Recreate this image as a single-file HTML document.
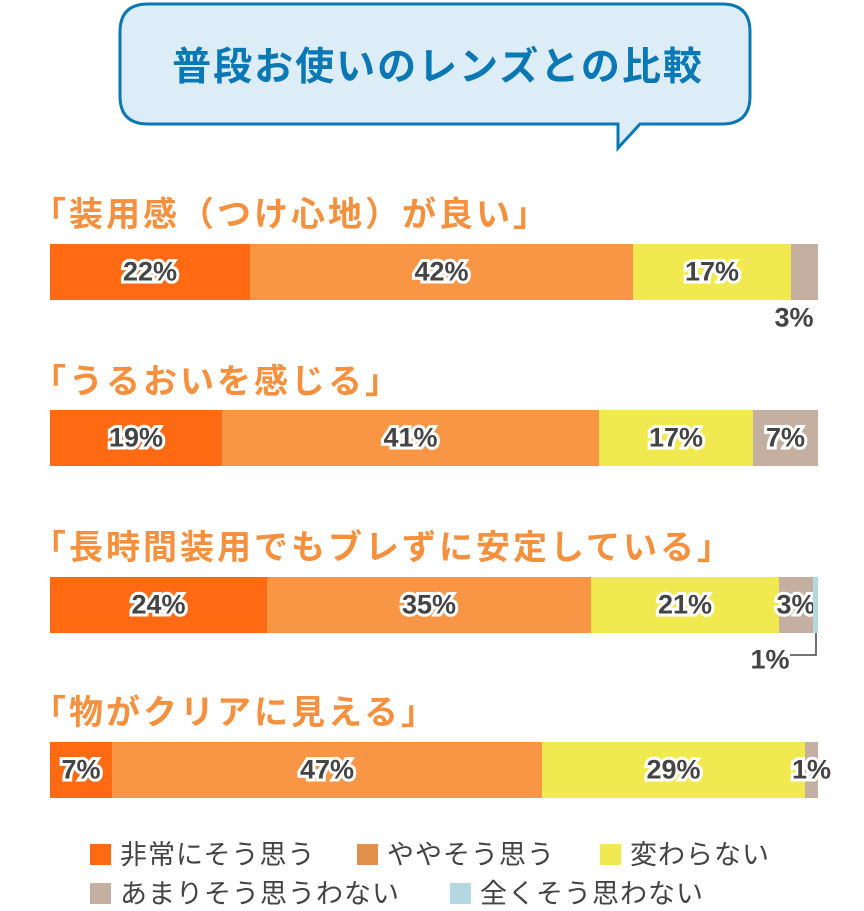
<!DOCTYPE html>
<html><head><meta charset="utf-8"><style>
body{margin:0;width:864px;height:905px;background:#fff;position:relative;overflow:hidden;font-family:"Liberation Sans","Noto Sans CJK JP",sans-serif}
.a{position:absolute}
.t{position:absolute;color:#f5913e;font-weight:bold;font-size:34px;white-space:nowrap;letter-spacing:3px}
.bar{position:absolute;left:50px;width:768px;height:56px;display:flex}
.bar div{height:100%;position:relative}
.l{position:absolute;font-weight:bold;font-size:27px;color:#444;white-space:nowrap;top:50%;transform:translate(-50%,-50%);-webkit-text-stroke:6px #fff;paint-order:stroke fill;letter-spacing:0px}
.c1{background:#ff6a13}.c2{background:#f89646}.c3{background:#f0ea50}.c4{background:#c4afa0}.c5{background:#b3d8df}
.lg{position:absolute;font-size:27px;color:#444;white-space:nowrap;letter-spacing:1px}
.sq{display:inline-block;width:21px;height:21px;vertical-align:-1px;margin-right:9px}
</style></head><body>
<svg class="a" style="left:0;top:0" width="864" height="160">
<path d="M148 4 H722 Q750 4 750 32 V96 Q750 124 722 124 H640 L618 148 V124 H148 Q120 124 120 96 V32 Q120 4 148 4 Z" fill="#ddedf8" stroke="#0a78b4" stroke-width="3"/>
<text x="438" y="80" text-anchor="middle" font-size="39" font-weight="bold" fill="#0a78b4" font-family="Liberation Sans,Noto Sans CJK JP,sans-serif" letter-spacing="2">普段お使いのレンズとの比較</text>
</svg>
<div class="t" style="left:32px;top:187px">「装用感（つけ心地）が良い」</div>
<div class="bar" style="top:244px"><div class="c1" style="width:200px"><span class="l" style="left:50%">22%</span></div><div class="c2" style="width:383px"><span class="l" style="left:50%">42%</span></div><div class="c3" style="width:158px"><span class="l" style="left:50%">17%</span></div><div class="c4" style="width:27px"></div></div>
<div class="l a" style="left:794px;top:318px">3%</div>
<div class="t" style="left:32px;top:354px">「うるおいを感じる」</div>
<div class="bar" style="top:410px"><div class="c1" style="width:172px"><span class="l" style="left:50%">19%</span></div><div class="c2" style="width:377px"><span class="l" style="left:50%">41%</span></div><div class="c3" style="width:154px"><span class="l" style="left:50%">17%</span></div><div class="c4" style="width:65px"><span class="l" style="left:50%">7%</span></div></div>
<div class="t" style="left:32px;top:520px">「長時間装用でもブレずに安定している」</div>
<div class="bar" style="top:577px"><div class="c1" style="width:217px"><span class="l" style="left:50%">24%</span></div><div class="c2" style="width:324px"><span class="l" style="left:50%">35%</span></div><div class="c3" style="width:188px"><span class="l" style="left:50%">21%</span></div><div class="c4" style="width:34px"><span class="l" style="left:50%">3%</span></div><div class="c5" style="width:5px"></div></div>
<svg class="a" style="left:790px;top:633px" width="30" height="30"><path d="M0 22 H26 V0" fill="none" stroke="#444" stroke-width="1.5"/></svg>
<div class="l a" style="left:770px;top:660px">1%</div>
<div class="t" style="left:32px;top:685px">「物がクリアに見える」</div>
<div class="bar" style="top:742px"><div class="c1" style="width:62px"><span class="l" style="left:50%">7%</span></div><div class="c2" style="width:430px"><span class="l" style="left:50%">47%</span></div><div class="c3" style="width:263px"><span class="l" style="left:50%">29%</span></div><div class="c4" style="width:13px"><span class="l" style="left:50%">1%</span></div></div>
<div class="lg" style="left:90px;top:833px"><span class="sq c1"></span>非常にそう思う</div>
<div class="lg" style="left:357px;top:833px"><span class="sq" style="background:#e0904a"></span>ややそう思う</div>
<div class="lg" style="left:600px;top:833px"><span class="sq c3"></span>変わらない</div>
<div class="lg" style="left:90px;top:872px"><span class="sq c4"></span>あまりそう思うわない</div>
<div class="lg" style="left:450px;top:872px"><span class="sq c5"></span>全くそう思わない</div>
</body></html>
